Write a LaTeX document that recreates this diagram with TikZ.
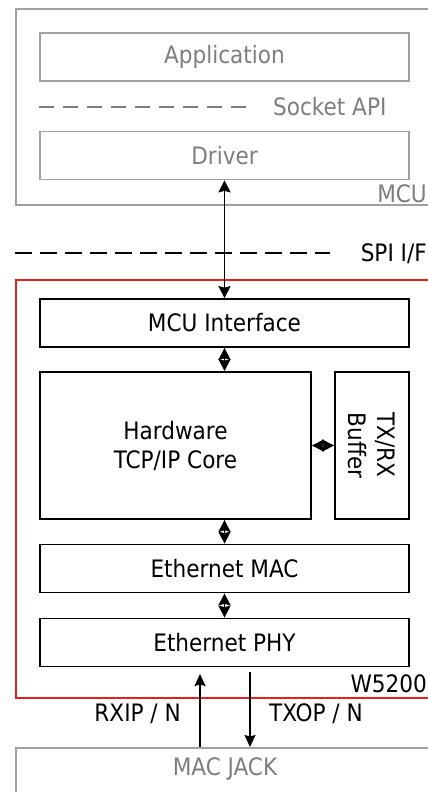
\documentclass[tikz,border=0pt]{standalone}
\usepackage{fontspec}
\setmainfont{DejaVu Sans Condensed}
\usetikzlibrary{arrows.meta,positioning}
\definecolor{mcugray}{RGB}{160,160,160}
\definecolor{txtgray}{RGB}{125,125,125}
\definecolor{chipred}{RGB}{230,30,30}
\tikzstyle{block} = [draw, line width=1.7pt, inner sep=0pt, minimum width=369pt, minimum height=48pt, font=\fontsize{24}{29}\selectfont]
\tikzstyle{lbl} = [inner sep=0pt, font=\fontsize{24}{29}\selectfont]
\tikzstyle{arrow} = [line width=1.8pt, -{Stealth[length=12pt,width=11pt,inset=1.5pt]}]
\tikzstyle{biarrow} = [line width=1.8pt, {Stealth[length=12pt,width=12pt,inset=1.5pt]}-{Stealth[length=12pt,width=12pt,inset=1.5pt]}]

\begin{document}
\begin{tikzpicture}[x=1pt,y=-1pt]
\useasboundingbox (0,0) rectangle (428,792);
\clip (0,0) rectangle (428,792);

% MCU side
\node[draw=mcugray, line width=1.6pt, anchor=north west, minimum width=440pt, minimum height=196pt] (mcu) at (15,8) {};
\node[block, draw=mcugray, text=txtgray] (app) at (224.5,57) {Application};
\node[block, draw=mcugray, text=txtgray] (drv) at (224.5,155.5) {Driver};
\coordinate (apiend) at (255,107);
\draw[txtgray, line width=1.4pt, dash pattern=on 15pt off 9pt] (app.west |- apiend) -- (apiend);
\node[lbl, text=txtgray, anchor=west] (api) at (273,107) {Socket API};
\node[lbl, text=txtgray, anchor=east] (mcutxt) at (427,193.5) {MCU};

% SPI interface
\coordinate (spistart) at (15,253);
\coordinate (spiend) at (330,253);
\draw[line width=1.5pt, dash pattern=on 17pt off 8pt] (spistart) -- (spiend);
\node[lbl, anchor=east] (spi) at (427,253.5) {SPI I/F};

% W5200 chip
\node[draw=chipred, line width=1.6pt, anchor=north west, minimum width=440pt, minimum height=418pt] (chip) at (15,279) {};
\node[block] (mcuif) at (224.5,323) {MCU Interface};
\node[block, minimum width=271pt, minimum height=147pt, align=center] (core) at (175.5,445.5) {Hardware\\TCP/IP Core};
\node[block, minimum width=74pt, minimum height=147pt] (buf) at (372,445.5) {};
\node[lbl, rotate=-90, align=left] (buftxt) at (buf.center) {TX/RX\\Buffer};
\node[block] (mac) at (224.5,568.5) {Ethernet MAC};
\node[block] (phy) at (224.5,642.5) {Ethernet PHY};
\node[lbl, anchor=east] (w5200) at (427,683.5) {W5200};

% MAC JACK
\node[draw=mcugray, line width=1.6pt, anchor=north west, minimum width=440pt, minimum height=80pt] (jack) at (15,747) {};
\node[lbl, text=txtgray] (jacktxt) at (225,769) {MAC JACK};

% Connections
\draw[biarrow] (drv.south) -- (mcuif.north);
\draw[biarrow] (mcuif.south) -- (mcuif.south |- core.north);
\draw[biarrow] (core.east) -- (buf.west);
\draw[biarrow] (mac.north |- core.south) -- (mac.north);
\draw[biarrow] (mac.south) -- (phy.north);
\coordinate (rxtop) at (200,674);
\coordinate (txtop) at (250,672);
\draw[arrow] (jack.north -| rxtop) -- (rxtop);
\draw[arrow] (txtop) -- (jack.north -| txtop);
\node[lbl, anchor=east] (rxlbl) at (181,714) {RXIP / N};
\node[lbl, anchor=west] (txlbl) at (269,714) {TXOP / N};
\end{tikzpicture}
\end{document}
